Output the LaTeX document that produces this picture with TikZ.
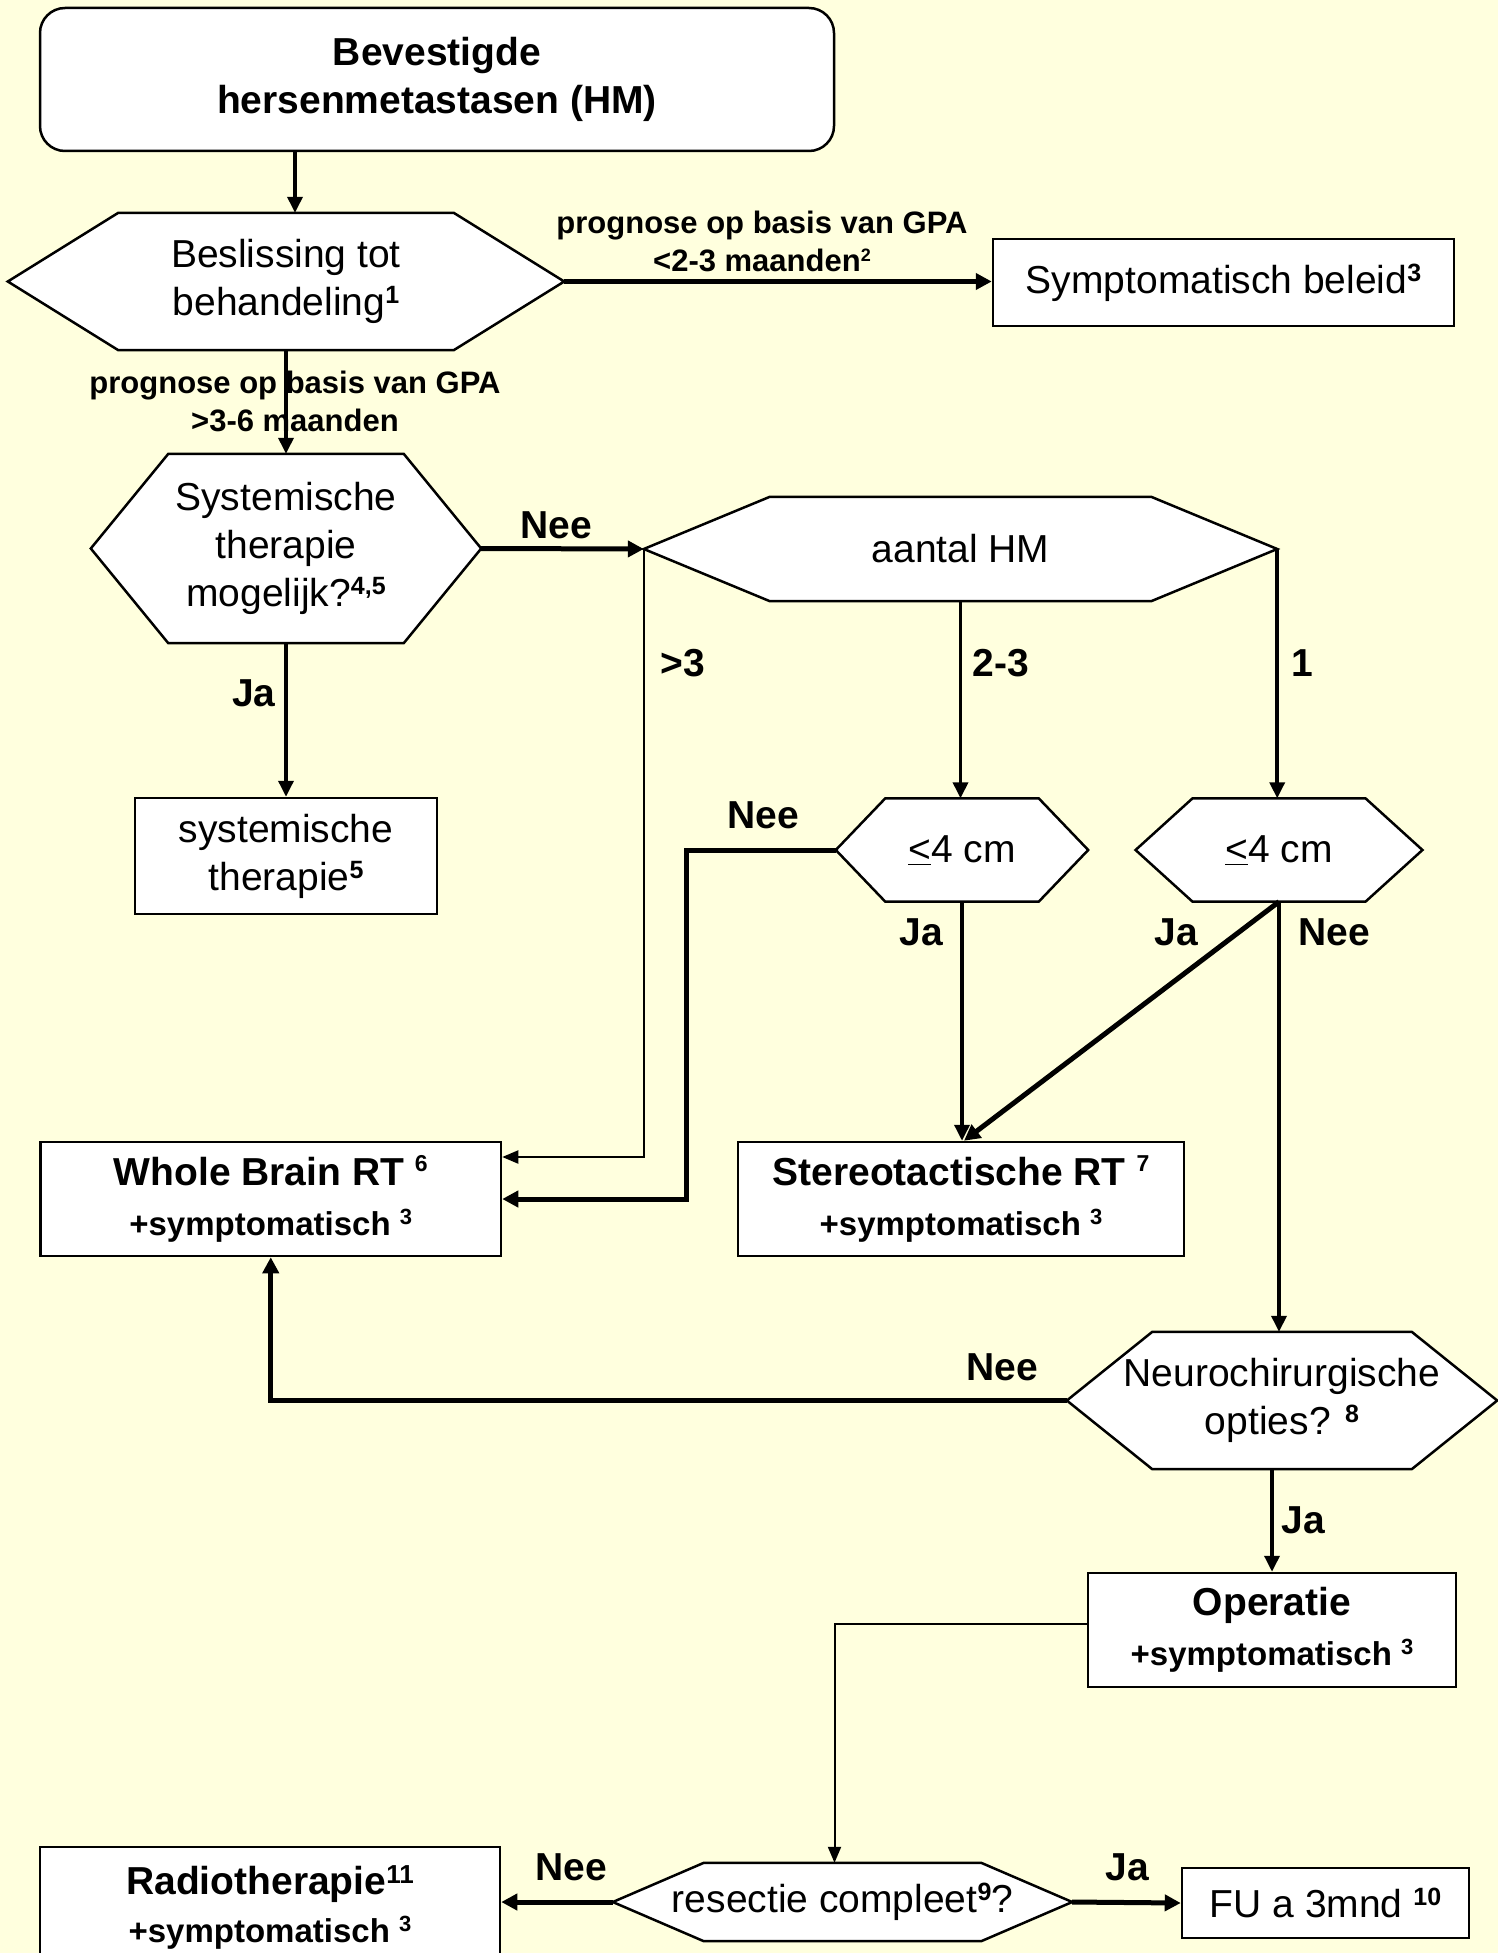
\documentclass[tikz,border=0pt]{standalone}
\usepackage{fontspec}
\setmainfont{Liberation Sans}
\usetikzlibrary{arrows.meta,calc}
\definecolor{bgyellow}{RGB}{255,255,222}
\pgfdeclarelayer{bglayer}
\pgfdeclarelayer{hexlayer}
\pgfsetlayers{bglayer,hexlayer,main}
\newcommand{\fReg}{\fontsize{39}{48}\selectfont}
\newcommand{\fLab}{\bfseries\fontsize{39}{48}\selectfont}
\newcommand{\fBox}{\bfseries\fontsize{39}{50}\selectfont}
\newcommand{\fSmall}{\bfseries\fontsize{31}{38}\selectfont}
\newcommand{\fSubl}{\bfseries\fontsize{33}{50}\selectfont}
\newcommand{\supR}[1]{\raisebox{12pt}{\fontsize{25}{25}\selectfont\bfseries #1}}
\newcommand{\supB}[1]{\raisebox{14pt}{\fontsize{23}{23}\selectfont #1}}
\newcommand{\supS}[1]{\raisebox{11pt}{\fontsize{22}{22}\selectfont #1}}
\newcommand{\supL}[1]{\raisebox{10pt}{\fontsize{18}{18}\selectfont #1}}
\newcommand{\drawhex}[2]{%
  \begin{pgfonlayer}{hexlayer}
  \draw[hexline] (#1.west) -- ([xshift=#2]#1.north west) -- ([xshift=-#2]#1.north east) -- (#1.east) -- ([xshift=-#2]#1.south east) -- ([xshift=#2]#1.south west) -- cycle;
  \end{pgfonlayer}}
\tikzset{
  hexline/.style={draw=black, fill=white, line width=2.5pt, line join=miter},
  hexnode/.style={draw=none, inner sep=0pt, align=center, font=\fReg},
  boxnode/.style={draw=black, fill=white, line width=2.5pt, inner sep=0pt, align=center},
  conn/.style={line width=3.5pt, -{Triangle[length=16pt,width=15pt]}},
  connthick/.style={line width=5pt, -{Triangle[length=16pt,width=16pt]}},
  connthin/.style={line width=2pt, -{Triangle[length=16pt,width=13pt]}},
  lab/.style={font=\fLab, inner sep=0pt},
  smalllab/.style={font=\fSmall, align=center, inner sep=0pt},
}
\begin{document}
\begin{tikzpicture}[x=1pt,y=-1pt]
\useasboundingbox (0,0) rectangle (1498,1953);
\begin{pgfonlayer}{bglayer}
\fill[bgyellow] (0,0) rectangle (1498,1953);
\end{pgfonlayer}
\clip (0,0) rectangle (1498,1953);

% nodes
\node[boxnode, rounded corners=25pt, minimum width=794pt, minimum height=143pt, font=\fLab] (top) at (437,79.5) {Bevestigde\\hersenmetastasen (HM)};

\node[hexnode, minimum width=556pt, minimum height=137pt] (beslis) at (286,281.5) {Beslissing tot\\behandeling\supR{1}};
\drawhex{beslis}{110.5pt}

\node[boxnode, minimum width=461pt, minimum height=87pt, font=\fReg] (symp) at (1223.5,282.5) {Symptomatisch beleid\supR{3}};

\node[hexnode, minimum width=390pt, minimum height=189pt] (syst) at (286,548.5) {Systemische\\therapie\\mogelijk?\supR{4,5}};
\drawhex{syst}{77.5pt}

\node[boxnode, minimum width=302pt, minimum height=116pt, font=\fReg] (systher) at (286,856) {systemische\\therapie\supR{5}};

\node[hexnode, minimum width=633pt, minimum height=104pt] (aantal) at (960.5,549) {aantal HM};
\drawhex{aantal}{126pt}

\node[hexnode, minimum width=252pt, minimum height=103pt] (le4a) at (962,850) {\underline{<}4 cm};
\drawhex{le4a}{49.5pt}

\node[hexnode, minimum width=286.5pt, minimum height=103pt] (le4b) at (1279,850) {\underline{<}4 cm};
\drawhex{le4b}{57pt}

\node[boxnode, minimum width=460.5pt, minimum height=114pt, font=\fBox] (wb) at (270.75,1199) {Whole Brain RT \supB{6}\\{\fSubl +symptomatisch \supS{3}}};

\node[boxnode, minimum width=446pt, minimum height=114pt, font=\fBox] (srt) at (961,1199) {Stereotactische RT \supB{7}\\{\fSubl +symptomatisch \supS{3}}};

\node[hexnode, minimum width=430pt, minimum height=137pt] (neuro) at (1282,1400.5) {Neurochirurgische\\opties? \supR{8}};
\drawhex{neuro}{85.5pt}

\node[boxnode, minimum width=368pt, minimum height=114pt, font=\fBox] (op) at (1272,1630) {Operatie\\{\fSubl +symptomatisch \supS{3}}};

\node[hexnode, minimum width=459pt, minimum height=78pt] (res) at (842.5,1902) {resectie compleet\supR{9}?};
\drawhex{res}{91pt}

\node[boxnode, minimum width=460pt, minimum height=121pt, font=\fontsize{39}{48}\selectfont\bfseries] (rad) at (270,1907.5) {Radiotherapie\raisebox{11pt}{\fontsize{26}{26}\selectfont 11}\\{\fSubl +symptomatisch \supS{3}}};

\node[boxnode, minimum width=287pt, minimum height=70pt, font=\fReg] (fu) at (1325.5,1903) {FU a 3mnd \supR{10}};

% labels
\node[smalllab] (l1) at (762,241) {prognose op basis van GPA\\<2-3 maanden\supL{2}};
\node[smalllab] (l2) at (295,401) {prognose op basis van GPA\\>3-6 maanden};
\node[lab] (l3) at (556,525) {Nee};
\node[lab] (l4) at (254,693) {Ja};
\node[lab] (l5) at (683,663) {>3};
\node[lab] (l6) at (1001,663) {2-3};
\node[lab] (l7) at (1302,663) {1};
\node[lab] (l8) at (763,815) {Nee};
\node[lab] (l9) at (921,932) {Ja};
\node[lab] (l10) at (1176,932) {Ja};
\node[lab] (l11) at (1334,932) {Nee};
\node[lab] (l12) at (1002,1367) {Nee};
\node[lab] (l13) at (1303,1520) {Ja};
\node[lab] (l14) at (571,1867) {Nee};
\node[lab] (l15) at (1127,1867) {Ja};

% connectors
\draw[conn] ([xshift=-142pt]top.south) -- ([xshift=-142pt]top.south |- beslis.north);
\draw[connthick] (beslis.east) -- (beslis.east -| symp.west);
\draw[conn] (beslis.south) -- (syst.north);
\draw[conn] (syst.south) -- (systher.north);
\draw[connthick] (syst.east) -- (aantal.west);
\draw[connthin] (aantal.west) |- ([yshift=42pt]wb.east);
\draw[conn] (aantal.south) -- (aantal.south |- le4a.north);
\draw[conn] (aantal.east) -- (aantal.east |- le4b.north);
\draw[connthick] (le4a.west) -- ++(-149,0) |- (wb.east);
\draw[conn] (le4a.south) -- (le4a.south |- srt.north);
\draw[connthick] (le4b.south) -- ([xshift=3pt]srt.north);
\draw[conn] (le4b.south) -- (le4b.south |- neuro.north);
\draw[connthick] (neuro.west) -| (wb.south);
\draw[conn] (op.north |- neuro.south) -- (op.north);
\draw[connthin] ([yshift=6pt]op.west) -| ([xshift=-8pt]res.north);
\draw[connthick] (res.west) -- (res.west -| rad.east);
\draw[connthick] (res.east) -- (fu.west);
\end{tikzpicture}
\end{document}
